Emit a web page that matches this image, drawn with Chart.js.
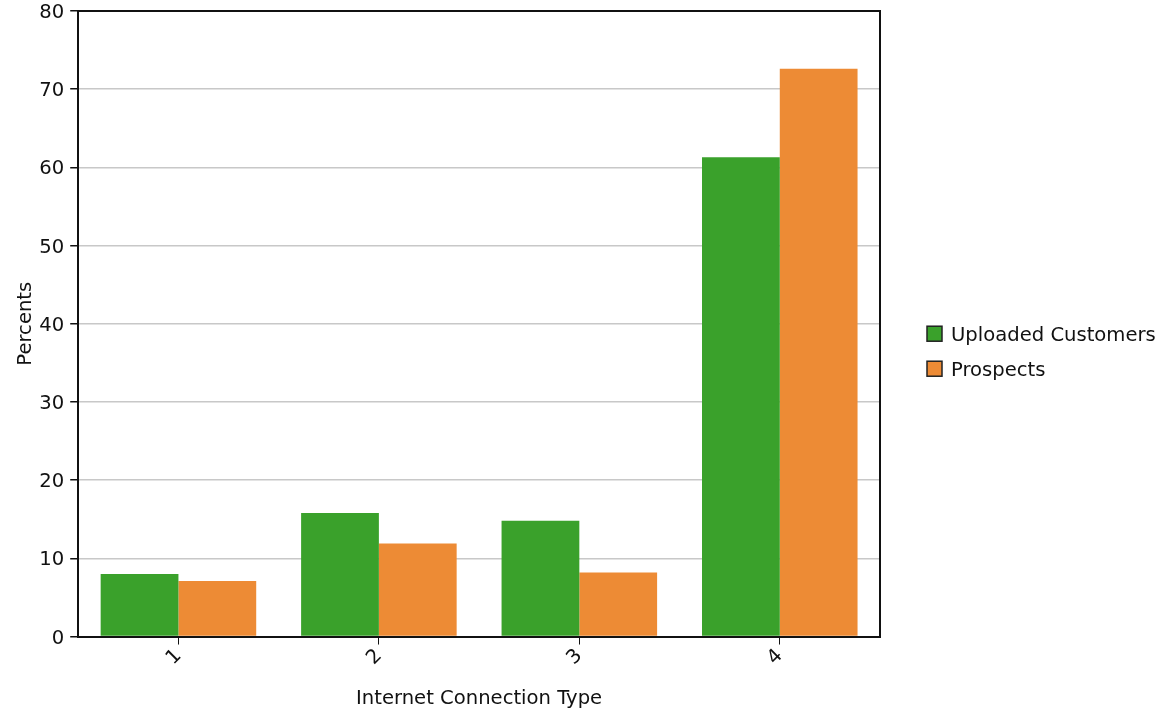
<!DOCTYPE html>
<html>
<head>
<meta charset="utf-8">
<script src="https://cdn.jsdelivr.net/npm/chart.js@4.4.1/dist/chart.umd.min.js"></script>
<style>
  html, body { margin: 0; padding: 0; background: #fff; }
  #wrap { width: 1168px; height: 715px; }
</style>
</head>
<body>
<div id="wrap"><canvas id="chart"></canvas></div>
<script>
const categories = ['1', '2', '3', '4'];
const uploadedCustomers = [8.0, 15.8, 14.8, 61.3];
const prospects = [7.1, 11.9, 8.2, 72.6];
const yTicks = [0, 10, 20, 30, 40, 50, 60, 70, 80];

const GREEN = '#3aa12b';
const ORANGE = '#ed8b35';
const FONT = { family: '"DejaVu Sans", sans-serif', size: 19.6 };

// top + right frame lines
const framePlugin = {
  id: 'frame',
  afterDraw(chart) {
    const { ctx, chartArea: a } = chart;
    ctx.save();
    ctx.strokeStyle = '#111';
    ctx.lineWidth = 2;
    ctx.beginPath();
    ctx.moveTo(a.left, a.top);
    ctx.lineTo(a.right, a.top);
    ctx.lineTo(a.right, a.bottom);
    ctx.stroke();
    ctx.restore();
  }
};

// legend on the right, a bit away from the plot
const sideLegend = {
  id: 'sideLegend',
  afterDraw(chart) {
    const { ctx, chartArea: a } = chart;
    const x = a.right + 47;
    let y = (a.top + a.bottom) / 2 + 10;
    ctx.save();
    ctx.font = `${FONT.size}px ${FONT.family}`;
    ctx.textBaseline = 'middle';
    ctx.textAlign = 'left';
    chart.data.datasets.forEach(ds => {
      ctx.fillStyle = ds.backgroundColor;
      ctx.fillRect(x, y - 7.5, 15, 15);
      ctx.strokeStyle = '#222';
      ctx.lineWidth = 1.5;
      ctx.strokeRect(x, y - 7.5, 15, 15);
      ctx.fillStyle = '#111';
      ctx.fillText(ds.label, x + 24, y + 2);
      y += 35;
    });
    ctx.restore();
  }
};

Chart.defaults.font = FONT;
Chart.defaults.color = '#111';

new Chart(document.getElementById('chart'), {
  type: 'bar',
  data: {
    labels: categories,
    datasets: [
      { label: 'Uploaded Customers', data: uploadedCustomers, backgroundColor: GREEN },
      { label: 'Prospects', data: prospects, backgroundColor: ORANGE }
    ]
  },
  options: {
    responsive: true,
    maintainAspectRatio: false,
    animation: false,
    datasets: { bar: { categoryPercentage: 0.776, barPercentage: 1.0 } },
    layout: { padding: { top: 2, left: 6, right: 288, bottom: 4 } },
    plugins: {
      tooltip: { enabled: false },
      legend: { display: false }
    },
    scales: {
      x: {
        grid: { display: true, drawOnChartArea: false, offset: false, tickLength: 8, tickColor: '#111' },
        border: { color: '#111', width: 2 },
        ticks: { minRotation: 45, maxRotation: 45, padding: 0 },
        title: { display: true, text: 'Internet Connection Type', font: FONT, padding: { top: 17.5, bottom: 0 } }
      },
      y: {
        min: 0,
        max: 80,
        afterBuildTicks(scale) { scale.ticks = yTicks.map(v => ({ value: v })); },
        grid: { color: '#c8c8c8', lineWidth: 1.5, tickLength: 8, tickColor: '#111' },
        border: { color: '#111', width: 2 },
        ticks: { padding: 6, labelOffset: 2, font: { family: FONT.family, size: FONT.size, lineHeight: 0.5 } },
        title: { display: true, text: 'Percents', font: { family: FONT.family, size: FONT.size, lineHeight: 0.8 }, padding: { top: 11.6, bottom: 0 } }
      }
    }
  },
  plugins: [framePlugin, sideLegend]
});
</script>
</body>
</html>
